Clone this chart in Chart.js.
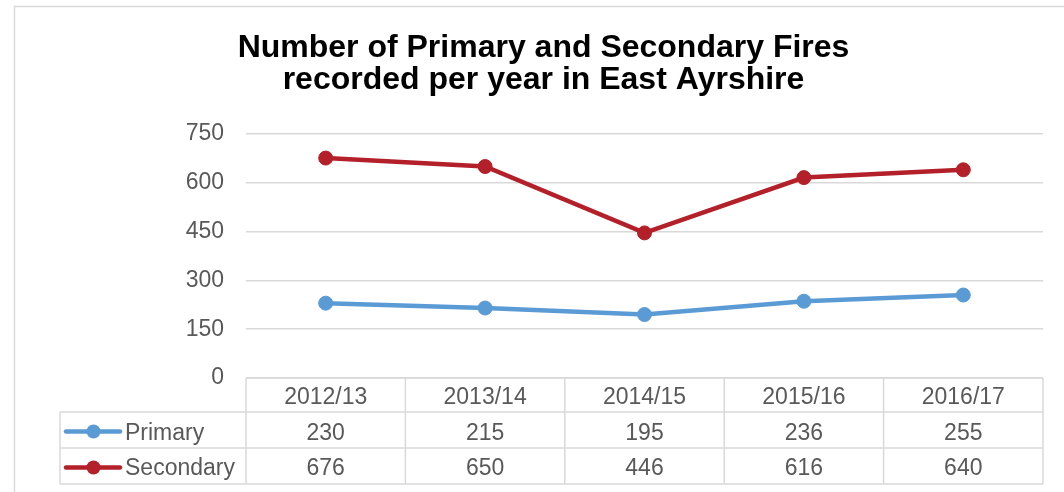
<!DOCTYPE html>
<html><head><meta charset="utf-8">
<script src="https://cdn.jsdelivr.net/npm/chart.js@4.4.1/dist/chart.umd.min.js"></script>
<style>html,body{margin:0;padding:0;background:#fff;}#wrap{width:1064px;height:492px;}</style>
</head><body><div id="wrap"><canvas id="c" width="1064" height="492"></canvas></div>
<script>
const categories = ['2012/13','2013/14','2014/15','2015/16','2016/17'];
const primary = [230, 215, 195, 236, 255];
const secondary = [676, 650, 446, 616, 640];
const seriesNames = ['Primary', 'Secondary'];
const seriesColors = ['#5b9bd5', '#b4202a'];
const yTicks = [0, 150, 300, 450, 600, 750];
const titleLines = ['Number of Primary and Secondary Fires', 'recorded per year in East Ayrshire'];

const FONT = "'Liberation Sans', Arial, sans-serif";
const GRID = '#d9d9d9';
const TXT = '#595959';

const framePlugin = {
  id: 'frame',
  beforeDraw(chart) {
    const ctx = chart.ctx;
    ctx.save();
    ctx.fillStyle = '#fff';
    ctx.fillRect(0, 0, chart.width, chart.height);
    ctx.strokeStyle = GRID;
    ctx.lineWidth = 1.5;
    ctx.strokeRect(14.5, 6.5, 1200, 600);
    ctx.restore();
  }
};

const tablePlugin = {
  id: 'dataTable',
  afterDraw(chart) {
    const ctx = chart.ctx;
    const x = chart.scales.x;
    const ca = chart.chartArea;
    const w = x.getPixelForValue(1) - x.getPixelForValue(0);
    const n = categories.length;
    const left0 = x.getPixelForValue(0) - w / 2;
    const right = x.getPixelForValue(n - 1) + w / 2;
    const tableLeft = 60;
    const ys = [ca.bottom, ca.bottom + 34, ca.bottom + 70, ca.bottom + 106];
    ctx.save();
    ctx.strokeStyle = GRID;
    ctx.lineWidth = 1.5;
    ctx.beginPath();
    ctx.moveTo(left0, ys[0]); ctx.lineTo(right, ys[0]);
    for (let r = 1; r < 4; r++) { ctx.moveTo(tableLeft, ys[r]); ctx.lineTo(right, ys[r]); }
    for (let i = 0; i <= n; i++) { const xx = left0 + i * w; ctx.moveTo(xx, ys[0]); ctx.lineTo(xx, ys[3]); }
    ctx.moveTo(tableLeft, ys[1]); ctx.lineTo(tableLeft, ys[3]);
    ctx.stroke();

    ctx.fillStyle = TXT;
    ctx.font = '23px ' + FONT;
    ctx.textBaseline = 'alphabetic';
    ctx.textAlign = 'center';
    const base = [ys[0] + 25.5, ys[1] + 28, ys[2] + 27];
    categories.forEach((c, i) => ctx.fillText(c, x.getPixelForValue(i), base[0]));
    const rows = [primary, secondary];
    rows.forEach((arr, r) => {
      arr.forEach((v, i) => ctx.fillText(String(v), x.getPixelForValue(i), base[r + 1]));
    });
    // legend keys
    ctx.textAlign = 'left';
    seriesNames.forEach((name, r) => {
      const cy = ys[r + 1] + 19.5;
      ctx.strokeStyle = seriesColors[r];
      ctx.lineWidth = 4.5;
      ctx.lineCap = 'round';
      ctx.beginPath(); ctx.moveTo(66, cy); ctx.lineTo(120, cy); ctx.stroke();
      ctx.fillStyle = seriesColors[r];
      ctx.beginPath(); ctx.arc(93.5, cy, 7, 0, Math.PI * 2); ctx.fill();
      ctx.fillStyle = TXT;
      ctx.fillText(name, 125, base[r + 1]);
    });
    ctx.restore();
  }
};

new Chart(document.getElementById('c'), {
  type: 'line',
  data: {
    labels: categories,
    datasets: [
      { label: seriesNames[0], data: primary, borderColor: seriesColors[0], backgroundColor: seriesColors[0],
        borderWidth: 4.5, pointRadius: 7, pointBackgroundColor: seriesColors[0], pointBorderColor: seriesColors[0], pointBorderWidth: 1, tension: 0 },
      { label: seriesNames[1], data: secondary, borderColor: seriesColors[1], backgroundColor: seriesColors[1],
        borderWidth: 4.5, pointRadius: 7, pointBackgroundColor: seriesColors[1], pointBorderColor: seriesColors[1], pointBorderWidth: 1, tension: 0 }
    ]
  },
  options: {
    responsive: false,
    animation: false,
    devicePixelRatio: 1,
    layout: { padding: { left: 44, right: 21, top: 0, bottom: 114 } },
    plugins: {
      legend: { display: false },
      tooltip: { enabled: false },
      title: {
        display: true,
        text: titleLines,
        color: '#000',
        font: { size: 32, weight: 'bold', family: FONT, lineHeight: 1.0 },
        padding: { top: 32, bottom: 38 }
      }
    },
    scales: {
      x: { type: 'category', offset: true, display: false },
      y: {
        min: yTicks[0], max: yTicks[yTicks.length - 1],
        afterFit(s) { s.width = 202; },
        afterBuildTicks(s) { s.ticks = yTicks.map(v => ({ value: v })); },
        border: { display: false },
        grid: { color: GRID, lineWidth: 1.5, drawTicks: false },
        ticks: { color: TXT, font: { size: 23, family: FONT }, padding: 22 }
      }
    }
  },
  plugins: [framePlugin, tablePlugin]
});
</script>
</body></html>
